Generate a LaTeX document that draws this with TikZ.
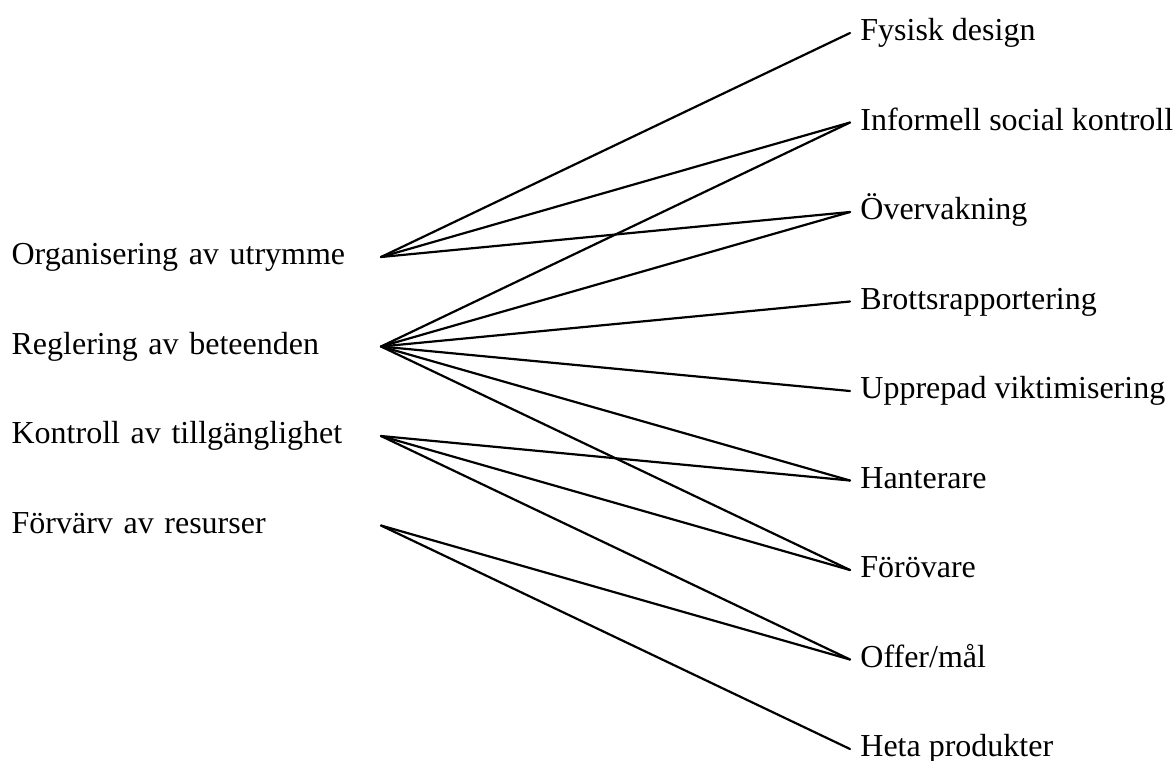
\documentclass[tikz,border=0pt]{standalone}
\usepackage{fontspec}
\setmainfont{Liberation Serif}
\tikzset{
  strategy/.style={anchor=east,align=left,text width=184.5pt,inner xsep=0pt,
    text height=0.95em,text depth=0.2em,font=\fontsize{16}{19}\selectfont},
  measure/.style={anchor=west,inner xsep=5pt,
    text height=0.95em,text depth=0.2em,font=\fontsize{16}{19}\selectfont},
  link/.style={line width=1.1pt,line cap=round}
}

\begin{document}
\begin{tikzpicture}[x=0.5pt,y=-0.5pt]
  \useasboundingbox (0,0) rectangle (1176,760);
  % strategies
  \node[strategy] (org) at (381,257) {Organisering av utrymme};
  \node[strategy] (reg) at (381,346.5) {Reglering av beteenden};
  \node[strategy] (kon) at (381,436) {Kontroll av tillgänglighet};
  \node[strategy] (forv) at (381,525.5) {Förvärv av resurser};
  % measures
  \node[measure] (fys) at (850,33) {Fysisk design};
  \node[measure] (inf) at (850,122.5) {Informell social kontroll};
  \node[measure] (overv) at (850,212) {Övervakning};
  \node[measure] (brott) at (850,301.5) {Brottsrapportering};
  \node[measure] (upp) at (850,391) {Upprepad viktimisering};
  \node[measure] (hant) at (850,480.5) {Hanterare};
  \node[measure] (forov) at (850,570) {Förövare};
  \node[measure] (offer) at (850,659.5) {Offer/mål};
  \node[measure] (heta) at (850,749) {Heta produkter};
  % links
  \draw[link] (org.east) -- (fys.west);
  \draw[link] (org.east) -- (inf.west);
  \draw[link] (org.east) -- (overv.west);
  \draw[link] (reg.east) -- (inf.west);
  \draw[link] (reg.east) -- (overv.west);
  \draw[link] (reg.east) -- (brott.west);
  \draw[link] (reg.east) -- (upp.west);
  \draw[link] (reg.east) -- (hant.west);
  \draw[link] (reg.east) -- (forov.west);
  \draw[link] (kon.east) -- (hant.west);
  \draw[link] (kon.east) -- (forov.west);
  \draw[link] (kon.east) -- (offer.west);
  \draw[link] (forv.east) -- (offer.west);
  \draw[link] (forv.east) -- (heta.west);
\end{tikzpicture}
\end{document}
